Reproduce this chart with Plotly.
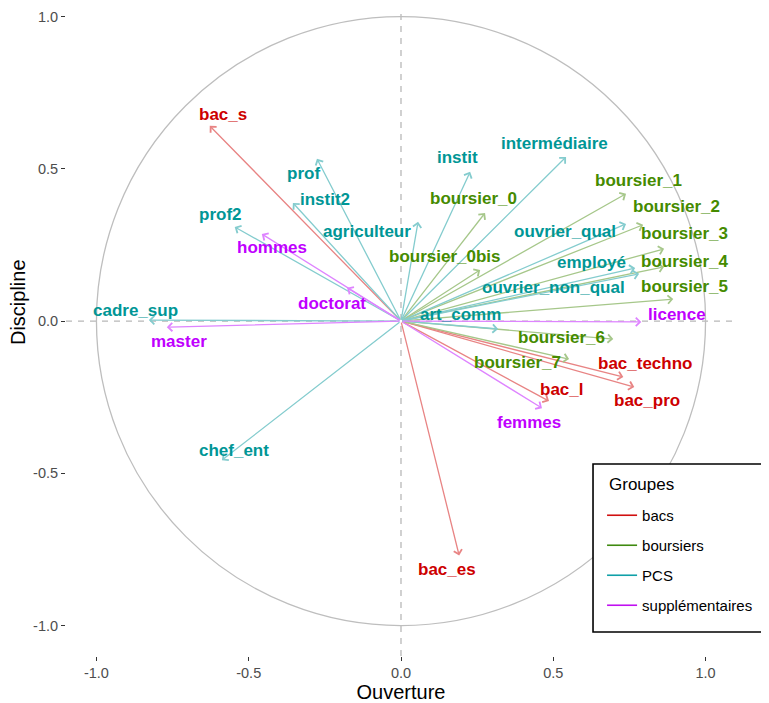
import plotly.graph_objects as go

# ---------------- data ----------------
group_names = ["bacs", "boursiers", "PCS", "supplémentaires"]

bacs_names = ["bac_s", "bac_l", "bac_es", "bac_techno", "bac_pro"]
bacs_dim1 = [-0.628, 0.486, 0.191, 0.730, 0.766]
bacs_dim2 = [0.641, -0.263, -0.770, -0.184, -0.217]
bacs_lab_x = [-0.583, 0.526, 0.150, 0.800, 0.807]
bacs_lab_y = [0.679, -0.224, -0.816, -0.138, -0.260]

bours_names = ["boursier_0", "boursier_0bis", "boursier_1", "boursier_2", "boursier_3",
               "boursier_4", "boursier_5", "boursier_6", "boursier_7"]
bours_dim1 = [0.276, 0.260, 0.739, 0.795, 0.864, 0.864, 0.894, 0.697, 0.552]
bours_dim2 = [0.355, 0.168, 0.418, 0.316, 0.237, 0.178, 0.072, -0.059, -0.125]
bours_lab_x = [0.237, 0.145, 0.779, 0.904, 0.932, 0.932, 0.932, 0.527, 0.384]
bours_lab_y = [0.401, 0.211, 0.461, 0.375, 0.286, 0.197, 0.115, -0.053, -0.135]

pcs_names = ["prof", "prof2", "instit", "instit2", "agriculteur", "intermédiaire",
             "ouvrier_qual", "employé", "ouvrier_non_qual", "art_comm", "cadre_sup", "chef_ent"]
pcs_dim1 = [-0.276, -0.546, 0.227, -0.355, 0.056, 0.542, 0.739, 0.769, 0.782, 0.319, -0.828, -0.588]
pcs_dim2 = [0.533, 0.309, 0.490, 0.388, 0.326, 0.539, 0.319, 0.174, 0.155, -0.026, 0.003, -0.457]
pcs_lab_x = [-0.319, -0.592, 0.186, -0.251, -0.112, 0.503, 0.537, 0.624, 0.500, 0.196, -0.872, -0.549]
pcs_lab_y = [0.484, 0.349, 0.536, 0.398, 0.293, 0.582, 0.293, 0.191, 0.109, 0.020, 0.036, -0.424]

supp_names = ["hommes", "femmes", "doctorat", "licence", "master"]
supp_dim1 = [-0.457, 0.463, -0.177, 0.789, -0.769]
supp_dim2 = [0.286, -0.286, 0.109, -0.003, -0.020]
supp_lab_x = [-0.424, 0.419, -0.225, 0.907, -0.730]
supp_lab_y = [0.240, -0.332, 0.059, 0.023, -0.066]

x_ticks = [-1.0, -0.5, 0.0, 0.5, 1.0]
y_ticks = [-1.0, -0.5, 0.0, 0.5, 1.0]

# ---------------- styles ----------------
text_colors = {"bacs": "#CD0000", "boursiers": "#458B00", "PCS": "#009696", "supplémentaires": "#BF00FF"}
arrow_colors = {"bacs": "#E88484", "boursiers": "#A6C78A", "PCS": "#84CCCE", "supplémentaires": "#DE84FF"}
legend_colors = {"bacs": "#D01010", "boursiers": "#3F8A10", "PCS": "#10A0A8", "supplémentaires": "#C010F0"}

groups = {
    "bacs": (bacs_names, bacs_dim1, bacs_dim2, bacs_lab_x, bacs_lab_y),
    "boursiers": (bours_names, bours_dim1, bours_dim2, bours_lab_x, bours_lab_y),
    "PCS": (pcs_names, pcs_dim1, pcs_dim2, pcs_lab_x, pcs_lab_y),
    "supplémentaires": (supp_names, supp_dim1, supp_dim2, supp_lab_x, supp_lab_y),
}

FONT = "Liberation Sans, Arial, Helvetica, sans-serif"

fig = go.Figure()

annotations = []
for g in group_names:
    names, d1, d2, lx, ly = groups[g]
    for xv, yv in zip(d1, d2):
        annotations.append(dict(
            x=xv, y=yv, xref="x", yref="y",
            ax=0, ay=0, axref="x", ayref="y",
            text="", showarrow=True,
            arrowhead=4, arrowsize=1.25, arrowwidth=1.3,
            arrowcolor=arrow_colors[g], standoff=0, startstandoff=0,
        ))
    fig.add_trace(go.Scatter(
        x=[None], y=[None], mode="lines", name=g,
        line=dict(color=legend_colors[g], width=1.6),
        legendgroup=g, showlegend=True,
    ))

for g in group_names:
    names, d1, d2, lx, ly = groups[g]
    for name, tx, ty in zip(names, lx, ly):
        annotations.append(dict(
            x=tx, y=ty, xref="x", yref="y", text=name, showarrow=False,
            xanchor="center", yanchor="middle",
            font=dict(family=FONT, size=17, color=text_colors[g], weight="bold"),
        ))

# y axis title
annotations.append(dict(
    x=-0.0716, y=0.5463, xref="paper", yref="paper", text="Discipline",
    showarrow=False, textangle=-90, xanchor="center", yanchor="middle",
    font=dict(family=FONT, size=20, color="#000000"),
))
# legend title
annotations.append(dict(
    x=0.8075, y=0.2654, xref="paper", yref="paper", text="Groupes",
    showarrow=False, xanchor="left", yanchor="middle",
    font=dict(family=FONT, size=17, color="#000000"),
))

shapes = [
    dict(type="circle", xref="x", yref="y", x0=-1, y0=-1, x1=1, y1=1,
         line=dict(color="#BEBEBE", width=1.3), layer="below"),
    dict(type="line", xref="x", yref="y domain", x0=0, x1=0, y0=0, y1=1,
         line=dict(color="#B8B8B8", width=1.3, dash="6px,6px"), layer="below"),
    dict(type="line", xref="x domain", yref="y", x0=0, x1=1, y0=0, y1=0,
         line=dict(color="#B8B8B8", width=1.3, dash="6px,6px"), layer="below"),
    # legend box
    dict(type="rect", xref="paper", yref="paper", x0=0.7866, x1=1.040, y0=0.0370, y1=0.2963,
         line=dict(color="#000000", width=1.6), fillcolor="white", layer="above"),
]

fig.update_layout(
    width=761, height=695,
    margin=dict(l=58, r=33, t=0, b=47, autoexpand=False),
    paper_bgcolor="white", plot_bgcolor="white",
    font=dict(family=FONT, color="#000000"),
    annotations=annotations, shapes=shapes,
    xaxis=dict(
        range=[-1.1, 1.1], tickvals=x_ticks, ticktext=[f"{v:.1f}" for v in x_ticks],
        showgrid=False, zeroline=False, showline=False,
        ticks="outside", ticklen=4, tickwidth=1.2, tickcolor="#333333",
        tickfont=dict(family=FONT, size=14.5, color="#4D4D4D"),
        title=dict(text="Ouverture", font=dict(family=FONT, size=20, color="#000000"), standoff=4),
        automargin=False,
    ),
    yaxis=dict(
        range=[-1.1, 1.028], tickvals=y_ticks, ticktext=[f"{v:.1f}" for v in y_ticks],
        showgrid=False, zeroline=False, showline=False,
        ticks="outside", ticklen=4, tickwidth=1.2, tickcolor="#333333",
        tickfont=dict(family=FONT, size=14.5, color="#4D4D4D"),
        automargin=False,
    ),
    legend=dict(
        x=0.8001, y=0.2423, xanchor="left", yanchor="top",
        bgcolor="rgba(0,0,0,0)", borderwidth=0,
        font=dict(family=FONT, size=15, color="#000000"),
        tracegroupgap=7.5, itemwidth=30,
    ),
)

fig.write_html("out.html")
